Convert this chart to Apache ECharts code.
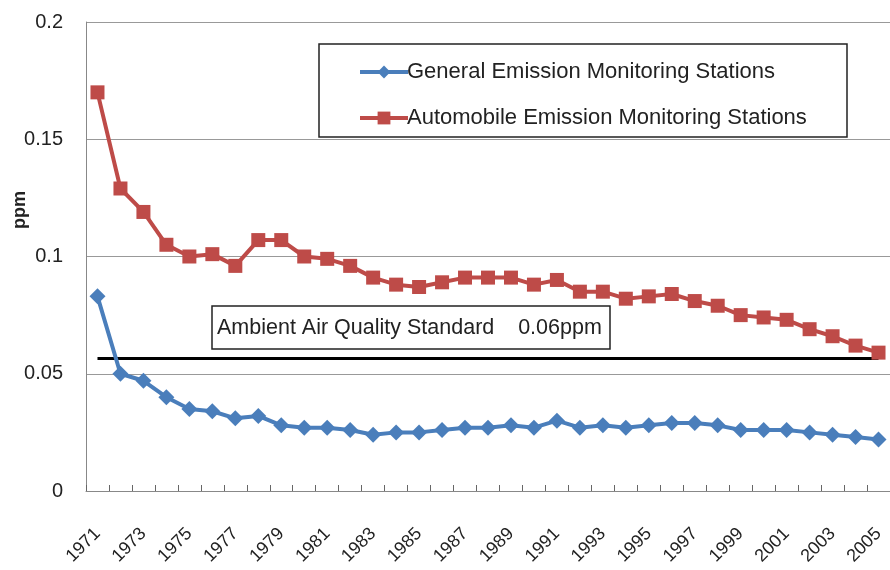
<!DOCTYPE html>
<html>
<head>
<meta charset="utf-8">
<script src="https://cdn.jsdelivr.net/npm/echarts@6/dist/echarts.min.js"></script>
<style>
  html, body { margin: 0; padding: 0; background: #fff; }
  #chart { width: 890px; height: 570px; }
</style>
</head>
<body>
<div id="chart"></div>
<script>
"use strict";

// years on the x axis
var years = [];
for (var y = 1971; y <= 2005; y++) years.push(String(y));

// general emission monitoring stations (ppm)
var generalValues = [
    0.083, 0.050, 0.047, 0.040, 0.035, 0.034, 0.031, 0.032, 0.028, 0.027,
    0.027, 0.026, 0.024, 0.025, 0.025, 0.026, 0.027, 0.027, 0.028, 0.027,
    0.030, 0.027, 0.028, 0.027, 0.028, 0.029, 0.029, 0.028, 0.026, 0.026,
    0.026, 0.025, 0.024, 0.023, 0.022
];

// automobile emission monitoring stations (ppm)
var autoValues = [
    0.170, 0.129, 0.119, 0.105, 0.100, 0.101, 0.096, 0.107, 0.107, 0.100,
    0.099, 0.096, 0.091, 0.088, 0.087, 0.089, 0.091, 0.091, 0.091, 0.088,
    0.090, 0.085, 0.085, 0.082, 0.083, 0.084, 0.081, 0.079, 0.075, 0.074,
    0.073, 0.069, 0.066, 0.062, 0.059
];

// standard line as it is drawn in the picture
var standardLevel = 0.0565;
var standardValues = years.map(function () { return standardLevel; });

var seriesNames = ['General Emission Monitoring Stations', 'Automobile Emission Monitoring Stations'];
var standardLabel = 'Ambient Air Quality Standard    0.06ppm';

var font = 'Liberation Sans, Arial, sans-serif';

var chart = echarts.init(document.getElementById('chart'), null, { renderer: 'canvas' });

var option = {
    backgroundColor: '#fff',
    animation: false,
    grid: { left: 86, right: 0, top: 22, bottom: 79, containLabel: false, outerBoundsMode: 'none' },
    legend: {
        data: seriesNames,
        orient: 'vertical',
        left: 353,
        top: 56,
        itemWidth: 48,
        itemHeight: 16,
        itemGap: 24,
        lineStyle: { width: 4 },
        textStyle: { fontFamily: font, fontSize: 22, color: '#222', padding: [0, 0, 0, -6] }
    },
    xAxis: {
        type: 'category',
        data: years,
        axisLine: { lineStyle: { color: '#888', width: 1 } },
        axisTick: { show: true, inside: true, length: 6, interval: 0, lineStyle: { color: '#666' } },
        axisLabel: { interval: 1, rotate: 45, margin: 40, fontFamily: font, fontSize: 18, color: '#222' },
        splitLine: { show: false }
    },
    yAxis: {
        type: 'value',
        min: 0,
        max: 0.2,
        interval: 0.05,
        axisLine: { show: true, lineStyle: { color: '#888', width: 1 } },
        axisTick: { show: false },
        axisLabel: { margin: 23, fontFamily: font, fontSize: 20, color: '#222' },
        splitLine: { lineStyle: { color: '#999', width: 1 } }
    },
    series: [
        {
            name: 'standard',
            type: 'line',
            data: standardValues,
            symbol: 'none',
            silent: true,
            lineStyle: { color: '#000', width: 3 },
            z: 1
        },
        {
            name: seriesNames[0],
            type: 'line',
            data: generalValues,
            symbol: 'diamond',
            symbolSize: 16,
            showAllSymbol: true,
            lineStyle: { color: '#4a7ebb', width: 4 },
            itemStyle: { color: '#4a7ebb' },
            z: 3
        },
        {
            name: seriesNames[1],
            type: 'line',
            data: autoValues,
            symbol: 'rect',
            symbolSize: 14,
            showAllSymbol: true,
            lineStyle: { color: '#be4b48', width: 4 },
            itemStyle: { color: '#be4b48' },
            z: 3
        }
    ],
    graphic: [
        {
            type: 'text',
            x: 20,
            y: 210,
            rotation: Math.PI / 2,
            style: {
                text: 'ppm',
                fontFamily: font,
                fontSize: 18,
                fontWeight: 'bold',
                fill: '#222',
                align: 'center',
                verticalAlign: 'middle'
            }
        },
        {
            type: 'rect',
            shape: { x: 319, y: 44, width: 528, height: 93 },
            style: { fill: 'rgba(0,0,0,0)', stroke: '#222', lineWidth: 1.5 },
            z: 10
        },
        {
            type: 'rect',
            shape: { x: 212, y: 306, width: 398, height: 43 },
            style: { fill: '#fff', stroke: '#222', lineWidth: 1.5 },
            z: 10
        },
        {
            type: 'text',
            x: 217,
            y: 328,
            style: {
                text: standardLabel,
                fontFamily: font,
                fontSize: 21.5,
                fill: '#222',
                verticalAlign: 'middle'
            },
            z: 11
        }
    ]
};

chart.setOption(option);
</script>
</body>
</html>
